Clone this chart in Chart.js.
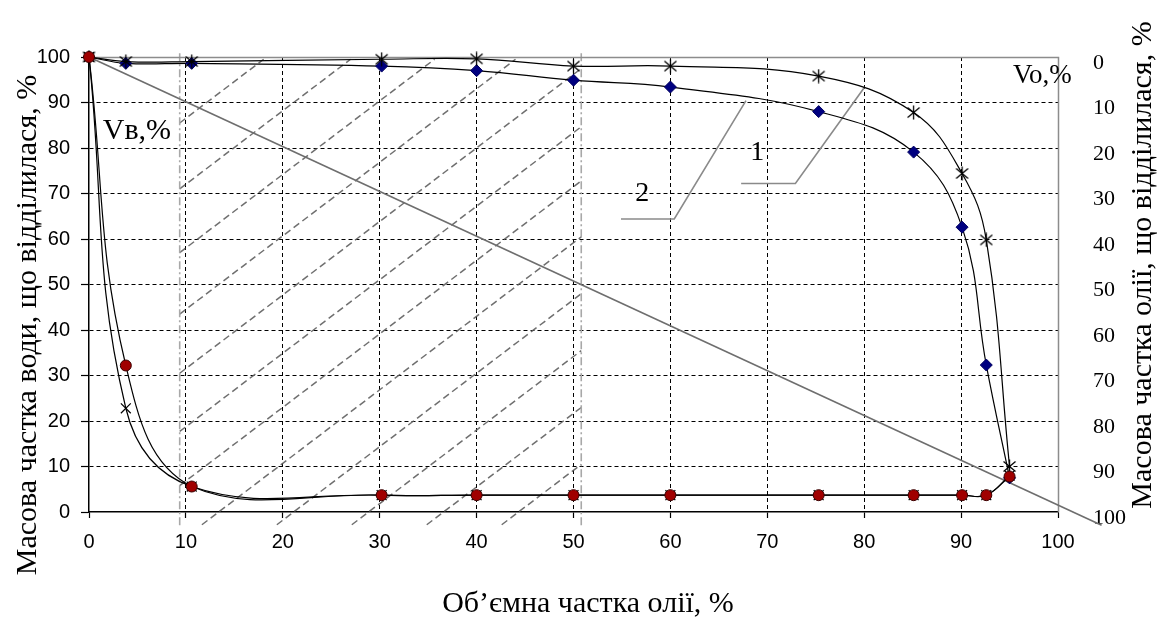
<!DOCTYPE html>
<html><head><meta charset="utf-8">
<script src="https://cdn.jsdelivr.net/npm/chart.js@4.4.1/dist/chart.umd.min.js"></script>
<style>html,body{margin:0;padding:0;background:#fff;}#wrap{width:1160px;height:621px;}</style>
</head><body><div id="wrap"><canvas id="c" width="1160" height="621"></canvas></div>
<script>
// ---- data ----
const oilVolumeFraction = [0, 3.8, 10.6, 30.2, 40, 50, 60, 75.3, 85.1, 90.1, 92.6, 95];
const oilSeparated1 = [100, 99, 99, 99.5, 99.6, 98, 98, 95.8, 87.8, 74.4, 59.8, 10];     // curve 1 (asterisks)
const oilSeparated2 = [100, 98.6, 98.6, 98, 97, 94.9, 93.4, 88, 79.1, 62.6, 32.3, 7.5];  // curve 2 (diamonds)
const waterSeparatedA = [100, 32.2, 5.6, 3.7, 3.7, 3.7, 3.7, 3.7, 3.7, 3.7, 3.7, 7.8];   // circles
const waterSeparatedB = [100, 22.8, 5.6, 3.7, 3.7, 3.7, 3.7, 3.7, 3.7, 3.7, 3.7, 8.0];   // x markers
const diagonalX = [0, 104.5];
const diagonalY = [100, -2.9];
const leader1X = [67.3, 72.9, 80.05];
const leader1Y = [72.2, 72.2, 93.4];
const leader2X = [54.9, 60.4, 67.8];
const leader2Y = [64.4, 64.4, 90.4];
const hatchIntercepts = [85.5, 71, 57, 43.5, 30.5, 17.7, 5.8, -6.5, -19, -31.5, -44, -56.5];
const hatchSlope = 1.616;
const hatchXRange = [9.36, 50.8];
const hatchYRange = [-2.8, 99.5];
const xTickStep = 10, leftTickStep = 10, rightTickStep = 10;

const annotations = [
  {text: '1', x: 68.96, y: 79.0, size: 28, align: 'center'},
  {text: '2', x: 57.1, y: 70.0, size: 28, align: 'center'},
  {text: 'Vв,%', x: 1.42, y: 83.8, size: 30, align: 'left'},
  {text: 'Vo,%', x: 95.35, y: 95.8, size: 27, align: 'left'}
];

const pts = (xs, ys) => xs.map((x, i) => ({x: x, y: ys[i]}));
const SERIF = "'Liberation Serif','Times New Roman',serif";
const SANS = "'Liberation Sans',Arial,sans-serif";

// six-armed asterisk marker (Excel "star")
const asterisk = document.createElement('canvas');
asterisk.width = 15; asterisk.height = 15;
(function () {
  const g = asterisk.getContext('2d');
  g.strokeStyle = '#000'; g.lineWidth = 1.3; g.lineCap = 'butt';
  g.beginPath();
  g.moveTo(7.5, 0.5); g.lineTo(7.5, 14.5);
  g.moveTo(1.5, 2.5); g.lineTo(13.5, 12.5);
  g.moveTo(1.5, 12.5); g.lineTo(13.5, 2.5);
  g.stroke();
})();

const extras = {
  id: 'extras',
  beforeDraw(chart) {
    const c = chart.ctx;
    c.save(); c.fillStyle = '#fff'; c.fillRect(0, 0, chart.width, chart.height); c.restore();
  },
  beforeDatasetsDraw(chart) {
    const c = chart.ctx, sx = chart.scales.x, sy = chart.scales.y, a = chart.chartArea;
    c.save();
    // hatching
    c.strokeStyle = 'rgba(95,95,95,0.9)';
    c.lineWidth = 1.5;
    c.setLineDash([7, 4]);
    const x0 = hatchXRange[0], x1 = hatchXRange[1], yMin = hatchYRange[0], yMax = hatchYRange[1];
    for (const b of hatchIntercepts) {
      let xa = x0, ya = b;
      if (ya < yMin) { xa = x0 + (yMin - b) / hatchSlope; ya = yMin; }
      let xb = x1, yb = b + hatchSlope * (x1 - x0);
      if (yb > yMax) { xb = x0 + (yMax - b) / hatchSlope; yb = yMax; }
      if (xa >= xb) continue;
      c.beginPath();
      c.moveTo(sx.getPixelForValue(xa), sy.getPixelForValue(ya));
      c.lineTo(sx.getPixelForValue(xb), sy.getPixelForValue(yb));
      c.stroke();
    }
    // boundaries
    c.strokeStyle = '#a8a8a8';
    c.lineWidth = 1.6;
    c.setLineDash([8, 3, 2, 3]);
    for (const xv of hatchXRange) {
      c.beginPath();
      c.moveTo(sx.getPixelForValue(xv), sy.getPixelForValue(100.8));
      c.lineTo(sx.getPixelForValue(xv), sy.getPixelForValue(-3));
      c.stroke();
    }
    // plot border (top, right)
    c.setLineDash([]);
    c.strokeStyle = '#8c8c8c';
    c.lineWidth = 1.5;
    c.beginPath();
    c.moveTo(a.left, a.top + 0.5);
    c.lineTo(a.right + 0.5, a.top + 0.5);
    c.lineTo(a.right + 0.5, a.bottom);
    c.stroke();
    c.restore();
  },
  afterDraw(chart) {
    const c = chart.ctx, sx = chart.scales.x, sy = chart.scales.y;
    c.save();
    c.fillStyle = '#000';
    c.textBaseline = 'middle';
    for (const t of annotations) {
      c.font = t.size + 'px ' + SERIF;
      c.textAlign = t.align;
      c.fillText(t.text, sx.getPixelForValue(t.x), sy.getPixelForValue(t.y));
    }
    // axis titles
    c.font = '30px ' + SERIF;
    c.textAlign = 'center';
    c.textBaseline = 'alphabetic';
    c.fillText('Об’ємна частка олії, %', 588, 612);
    c.save();
    c.translate(36, 325); c.rotate(-Math.PI / 2);
    c.fillText('Масова частка води, що відділилася, %', 0, 0);
    c.restore();
    c.save();
    c.translate(1151, 265); c.rotate(-Math.PI / 2);
    c.fillText('Масова частка олії, що відділилася, %', 0, 0);
    c.restore();
    c.restore();
  }
};

const gridColor = ctx => (ctx.tick && (ctx.tick.value === 0 || ctx.tick.value === 100)) ? 'rgba(0,0,0,0)' : '#000';
const markerClip = {left: 10, top: 10, right: 10, bottom: 10};

new Chart(document.getElementById('c'), {
  type: 'line',
  data: {
    datasets: [
      {label: 'Vв circles', data: pts(oilVolumeFraction, waterSeparatedA), order: 1, clip: markerClip,
        borderColor: '#000', borderWidth: 1.2, tension: 0.4, fill: false,
        pointStyle: 'circle', pointRadius: 5.5, pointBorderColor: '#3a0000', pointBorderWidth: 1, pointBackgroundColor: '#a00000'},
      {label: '1', data: pts(oilVolumeFraction, oilSeparated1), order: 2, clip: markerClip,
        borderColor: '#000', borderWidth: 1.2, tension: 0.4, fill: false,
        pointStyle: asterisk, pointRadius: 7},
      {label: '2', data: pts(oilVolumeFraction, oilSeparated2), order: 3, clip: markerClip,
        borderColor: '#000', borderWidth: 1.2, tension: 0.4, fill: false,
        pointStyle: 'rectRot', pointRadius: 6, pointBorderColor: '#000060', pointBorderWidth: 1, pointBackgroundColor: '#000080'},
      {label: 'Vв crosses', data: pts(oilVolumeFraction, waterSeparatedB), order: 4, clip: markerClip,
        borderColor: '#000', borderWidth: 1.2, tension: 0.4, fill: false,
        pointStyle: 'crossRot', pointRadius: 7, pointBorderColor: '#000', pointBorderWidth: 1.2},
      {label: 'diagonal', data: pts(diagonalX, diagonalY), order: 5, clip: false,
        borderColor: '#6e6e6e', borderWidth: 1.6, tension: 0, pointRadius: 0},
      {label: 'leader1', data: pts(leader1X, leader1Y), order: 6,
        borderColor: '#8a8a8a', borderWidth: 1.6, tension: 0, pointRadius: 0},
      {label: 'leader2', data: pts(leader2X, leader2Y), order: 7,
        borderColor: '#8a8a8a', borderWidth: 1.6, tension: 0, pointRadius: 0}
    ]
  },
  options: {
    responsive: false,
    animation: false,
    devicePixelRatio: 1,
    layout: {padding: {top: 57, left: 0, right: 0, bottom: 0}},
    plugins: {legend: {display: false}, tooltip: {enabled: false}},
    events: [],
    elements: {line: {capBezierPoints: true}},
    scales: {
      x: {
        type: 'linear', position: 'bottom', min: 0, max: 100,
        ticks: {stepSize: xTickStep, font: {family: SANS, size: 20}, color: '#000', padding: 12, maxRotation: 0, autoSkip: false},
        grid: {color: gridColor, lineWidth: 1, tickColor: '#000', tickLength: 6, tickWidth: 1.2},
        border: {display: true, color: '#000', width: 1.5, dash: [4, 3]},
        afterFit: s => { s.height = 109; }
      },
      y: {
        type: 'linear', position: 'left', min: 0, max: 100,
        ticks: {stepSize: leftTickStep, font: {family: SANS, size: 20}, color: '#000', padding: 11},
        grid: {color: gridColor, lineWidth: 1, tickColor: '#000', tickLength: 8, tickWidth: 1.2},
        border: {display: true, color: '#000', width: 1.5, dash: [4, 3]},
        afterFit: s => { s.width = 89; }
      },
      y2: {
        type: 'linear', position: 'right', min: 0, max: 100, reverse: true,
        ticks: {stepSize: rightTickStep, font: {family: SERIF, size: 22}, color: '#000', padding: 35, labelOffset: 6},
        grid: {display: false, drawTicks: false, drawOnChartArea: false},
        border: {display: false},
        afterFit: s => { s.width = 102; }
      }
    }
  },
  plugins: [extras]
});
</script>
</body></html>
